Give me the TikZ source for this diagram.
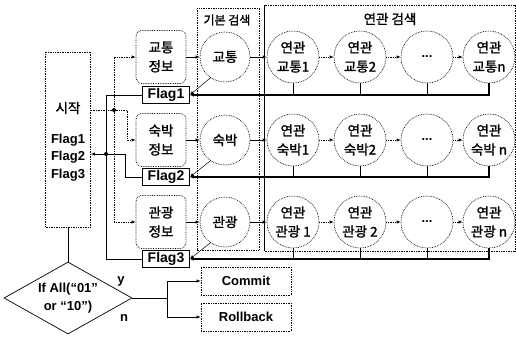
\documentclass[tikz,border=0pt]{standalone}
\usepackage{fontspec}
\setmainfont{Liberation Sans}
\newfontfamily\kr{Noto Sans CJK KR}[FakeBold=1.4]
\usetikzlibrary{shapes.geometric,arrows.meta}

\tikzset{
  lat/.style={font=\bfseries\fontsize{13}{17.5}\selectfont},
  kor/.style={font=\kr\fontsize{13.5}{19}\selectfont},
  dotline/.style={densely dotted, line width=0.7pt},
  flagline/.style={line width=1.2pt},
  startbox/.style={draw, dotline, minimum width=45pt, minimum height=175pt, inner sep=0pt},
  infobox/.style={draw, dotline, kor, rounded corners=6pt, minimum width=50pt, minimum height=53pt, inner sep=0pt, align=center},
  flagbox/.style={draw, line width=0.8pt, lat, font=\bfseries\fontsize{14}{14}\selectfont, minimum width=47pt, minimum height=17pt, inner sep=0pt, fill=white},
  basicc/.style={circle, draw, dotline, kor, minimum size=50pt, inner sep=0pt, align=center},
  relc/.style={circle, draw, dotline, kor, minimum size=52pt, inner sep=0pt, align=center},
  resbox/.style={draw, dotline, lat, minimum width=90pt, minimum height=28pt, inner sep=0pt},
  decision/.style={diamond, draw, lat, aspect=1.78, minimum width=128pt, minimum height=72pt, inner sep=0pt, align=center}
}

\begin{document}
\begin{tikzpicture}[x=1pt,y=-1pt,line width=0.7pt,>={Latex[length=4pt,width=3.5pt]}]
  \useasboundingbox (0,0) rectangle (516,340);

  % search frames
  \draw[dotline] (197,8) rectangle (259,250);
  \node (basiclbl) [kor, font=\kr\fontsize{12}{12}\selectfont] at (227,20) {기본 검색};
  \draw[dotline] (264,5) rectangle (515,251);
  \draw (264,251) -- (264,5);
  \node (rellbl) [kor] at (390,19) {연관 검색};

  % start
  \node (start) [startbox] at (68,139.5) {};
  \node (starttxt) [kor] at (68,108) {시작};
  \node (startflags) [lat, align=center] at (68,157.5) {Flag1\\Flag2\\Flag3};

  % rows
  \foreach \r/\y/\f/\kw/\ka/\kb/\kn in {1/57/95/교통/교통1/교통2/교통n,
                                        2/140/177/숙박/숙박1/숙박2/숙박 n,
                                        3/222/259/관광/관광 1/관광 2/관광 n} {
    \node (info\r) [infobox] at (161,\y) {\kw\\정보};
    \node (flag\r) [flagbox] at (166,\f) {Flag\r};
    \node (basic\r) [basicc] at (225,\y) {\kw};
    \node (rel\r-1) [relc] at (293,\y) {연관\\\ka};
    \node (rel\r-2) [relc] at (360,\y) {연관\\\kb};
    \node (rel\r-3) [relc, lat] at (427,\y) {...};
    \node (rel\r-n) [relc] at (489,\y) {연관\\\kn};
    \draw[->] (info\r) -- (basic\r);
    \draw[->] (basic\r) -- (rel\r-1);
    \draw[dotline,->] (rel\r-1) -- (rel\r-2);
    \draw[dotline,->] (rel\r-2) -- (rel\r-3);
    \draw[dotline,->] (rel\r-3) -- (rel\r-n);
    \foreach \c in {1,2,3}
      \draw (rel\r-\c.south) -- (rel\r-\c.south |- flag\r.east);
    \draw[flagline,->] (rel\r-n.south) |- (flag\r.east);
    \draw[line width=0.5pt,->] (basic\r.235) -- (flag\r.east);
  }

  % start -> info boxes
  \coordinate (split) at (114,110);
  \coordinate (splitb) at (127,110);
  \draw[dotline] (start.east |- split) -- (split);
  \draw[dotline,->] (split) |- (info1.west);
  \draw[dotline,->] (split) |- (info3.west);
  \draw[dotline,->] (split) -- (splitb) |- (info2.west);
  \fill (split) circle (2pt);

  % flags -> start
  \coordinate (merge) at (106,154);
  \coordinate (mergeb) at (125,154);
  \draw (flag1.west) -| (merge);
  \draw (flag3.west) -| (merge);
  \draw (flag2.west) -| (mergeb) -- (merge);
  \draw[->] (merge) -- (start.east |- merge);
  \fill (merge) circle (2pt);

  % decision
  \node (cond) [decision] at (68,298) {If All(“01”\\or “10”)};
  \node (commit) [resbox] at (246,281) {Commit};
  \node (rollback) [resbox] at (246,317) {Rollback};
  \coordinate (fork) at (167,298);
  \draw (start) -- (cond);
  \draw (cond.east) -- (fork);
  \draw[->] (fork) |- (commit);
  \draw[->] (fork) |- (rollback);
  \node (ylbl) [lat] at (121,281) {y};
  \node (nlbl) [lat] at (124,318) {n};
\end{tikzpicture}
\end{document}
